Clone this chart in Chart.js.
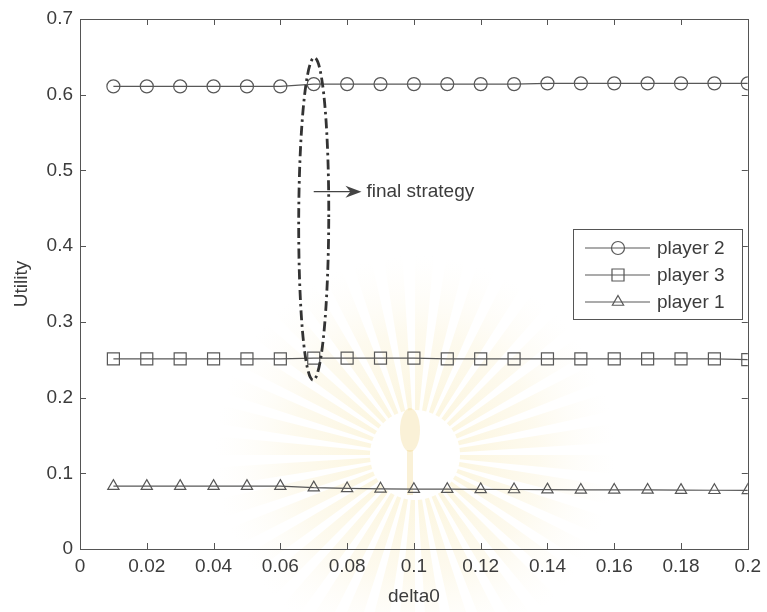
<!DOCTYPE html>
<html>
<head>
<meta charset="utf-8">
<script src="https://cdn.jsdelivr.net/npm/chart.js@4"></script>
<style>
  html, body { margin: 0; padding: 0; background: #fff; }
  #wrap { width: 767px; height: 612px; }
</style>
</head>
<body>
<div id="wrap"><canvas id="chartCanvas" width="767" height="612"></canvas></div>
<script>
// --- data ---
const delta0 = [0.01, 0.02, 0.03, 0.04, 0.05, 0.06, 0.07, 0.08, 0.09, 0.10,
                0.11, 0.12, 0.13, 0.14, 0.15, 0.16, 0.17, 0.18, 0.19, 0.20];
const player2 = [0.611, 0.611, 0.611, 0.611, 0.611, 0.611, 0.614, 0.614, 0.614, 0.614,
                 0.614, 0.614, 0.614, 0.615, 0.615, 0.615, 0.615, 0.615, 0.615, 0.615];
const player3 = [0.251, 0.251, 0.251, 0.251, 0.251, 0.251, 0.252, 0.252, 0.252, 0.252,
                 0.251, 0.251, 0.251, 0.251, 0.251, 0.251, 0.251, 0.251, 0.251, 0.250];
const player1 = [0.083, 0.083, 0.083, 0.083, 0.083, 0.083, 0.081, 0.080, 0.0795, 0.079,
                 0.079, 0.0788, 0.0786, 0.0784, 0.078, 0.078, 0.078, 0.0778, 0.0776, 0.0775];
const seriesNames = ["player 2", "player 3", "player 1"];

// annotation: dash-dot ring around the chosen delta0, plus arrow label
const strategyX = 0.07;
const ringTop = 0.649;
const ringBottom = 0.223;
const ringHalfWidth = 0.0045;
const arrowY = 0.472;
const arrowEndX = 0.0843;
const arrowText = "final strategy";

const ink = "#3c3c3c";
const lineGrey = "#585858";
const font = "'Liberation Sans', Arial, sans-serif";
const textSize = 19;

const canvas = document.getElementById("chartCanvas");

function pts(ys) {
  return delta0.map((x, i) => ({ x, y: ys[i] }));
}

function lineSet(label, ys, style, r) {
  return {
    label,
    data: pts(ys),
    borderColor: lineGrey,
    borderWidth: 1.2,
    pointStyle: style,
    pointRadius: r,
    pointHoverRadius: r,
    pointBorderColor: lineGrey,
    pointBorderWidth: 1.2,
    pointBackgroundColor: "rgba(0,0,0,0)",
    tension: 0
  };
}

// faint sunburst seal behind the axes
const sealPlugin = {
  id: "seal",
  beforeDraw(chart) {
    const ctx = chart.ctx;
    ctx.save();
    ctx.fillStyle = "#fff";
    ctx.fillRect(0, 0, chart.width, chart.height);
    const cx = 415, cy = 455;
    const rays = 40;
    for (let i = 0; i < rays; i++) {
      const a0 = (i / rays) * Math.PI * 2;
      const a1 = a0 + (Math.PI * 2 / rays) * 0.6;
      const g = ctx.createRadialGradient(cx, cy, 30, cx, cy, 200);
      g.addColorStop(0, "rgba(245,225,150,0.32)");
      g.addColorStop(0.55, "rgba(247,232,180,0.22)");
      g.addColorStop(1, "rgba(250,244,224,0)");
      ctx.fillStyle = g;
      ctx.beginPath();
      ctx.moveTo(cx + 45 * Math.cos(a0), cy + 45 * Math.sin(a0));
      ctx.arc(cx, cy, 200, a0, a1);
      ctx.arc(cx, cy, 45, a1, a0, true);
      ctx.closePath();
      ctx.fill();
    }
    // small torch-like stem in the middle of the seal
    ctx.fillStyle = "rgba(240,215,140,0.35)";
    ctx.beginPath();
    ctx.ellipse(cx - 5, cy - 25, 10, 22, 0, 0, Math.PI * 2);
    ctx.fill();
    ctx.fillRect(cx - 8, cy - 5, 6, 45);
    ctx.restore();
  }
};

// box, inward ticks, annotation and legend
const framePlugin = {
  id: "frame",
  afterDraw(chart) {
    const ctx = chart.ctx;
    const a = chart.chartArea;
    const xs = chart.scales.x, ys = chart.scales.y;
    ctx.save();
    ctx.strokeStyle = "#555";
    ctx.lineWidth = 1;
    ctx.strokeRect(Math.round(a.left) + 0.5, Math.round(a.top) + 0.5,
                   Math.round(a.right - a.left), Math.round(a.bottom - a.top));
    ctx.beginPath();
    xs.ticks.forEach(t => {
      const px = Math.round(xs.getPixelForValue(t.value)) + 0.5;
      ctx.moveTo(px, a.bottom); ctx.lineTo(px, a.bottom - 6);
      ctx.moveTo(px, a.top); ctx.lineTo(px, a.top + 6);
    });
    ys.ticks.forEach(t => {
      const py = Math.round(ys.getPixelForValue(t.value)) + 0.5;
      ctx.moveTo(a.left, py); ctx.lineTo(a.left + 6, py);
      ctx.moveTo(a.right, py); ctx.lineTo(a.right - 6, py);
    });
    ctx.stroke();

    // dash-dot ring
    const cx = xs.getPixelForValue(strategyX);
    const top = ys.getPixelForValue(ringTop);
    const bot = ys.getPixelForValue(ringBottom);
    const rx = xs.getPixelForValue(strategyX + ringHalfWidth) - cx;
    ctx.strokeStyle = "#333";
    ctx.lineWidth = 2.8;
    ctx.setLineDash([10, 4, 2.5, 4]);
    ctx.beginPath();
    ctx.ellipse(cx, (top + bot) / 2, rx, (bot - top) / 2, 0.004, 0, Math.PI * 2);
    ctx.stroke();
    ctx.setLineDash([]);

    // arrow
    const ay = ys.getPixelForValue(arrowY);
    const ax1 = xs.getPixelForValue(arrowEndX);
    ctx.strokeStyle = "#444";
    ctx.fillStyle = "#444";
    ctx.lineWidth = 1.2;
    ctx.beginPath();
    ctx.moveTo(cx, ay); ctx.lineTo(ax1 - 6, ay);
    ctx.stroke();
    ctx.beginPath();
    ctx.moveTo(ax1, ay);
    ctx.lineTo(ax1 - 16, ay - 6);
    ctx.lineTo(ax1 - 11, ay);
    ctx.lineTo(ax1 - 16, ay + 6);
    ctx.closePath();
    ctx.fill();
    ctx.fillStyle = ink;
    ctx.font = textSize + "px " + font;
    ctx.textAlign = "left";
    ctx.textBaseline = "middle";
    ctx.fillText(arrowText, ax1 + 5, ay);

    // legend box
    const lx0 = 573, lx1 = 742, ly0 = 229, ly1 = 319;
    ctx.fillStyle = "#fff";
    ctx.fillRect(lx0, ly0, lx1 - lx0, ly1 - ly0);
    ctx.strokeStyle = "#555";
    ctx.lineWidth = 1;
    ctx.strokeRect(lx0 + 0.5, ly0 + 0.5, lx1 - lx0, ly1 - ly0);
    chart.data.datasets.forEach((ds, i) => {
      const ry = 248 + i * 27;
      ctx.strokeStyle = lineGrey;
      ctx.lineWidth = 1.2;
      ctx.beginPath();
      ctx.moveTo(585, ry); ctx.lineTo(650, ry);
      ctx.stroke();
      // hollow marker on top of the sample line
      ctx.fillStyle = "rgba(0,0,0,0)";
      ctx.strokeStyle = lineGrey;
      Chart.helpers.drawPoint(ctx, {
        pointStyle: ds.pointStyle, radius: ds.pointRadius, rotation: 0, borderWidth: 1.2
      }, 618, ry);
      ctx.fillStyle = ink;
      ctx.font = textSize + "px " + font;
      ctx.textAlign = "left";
      ctx.textBaseline = "middle";
      ctx.fillText(ds.label, 657, ry + 1);
    });
    ctx.restore();
  }
};

const fmt = v => String(Number(Number(v).toFixed(2)));

new Chart(canvas, {
  type: "line",
  data: {
    datasets: [
      lineSet(seriesNames[0], player2, "circle", 6.5),
      lineSet(seriesNames[1], player3, "rect", 8.5),
      lineSet(seriesNames[2], player1, "triangle", 6.5)
    ]
  },
  plugins: [sealPlugin, framePlugin],
  options: {
    responsive: false,
    animation: false,
    layout: { padding: { top: 19, right: 17, left: 0, bottom: 0 } },
    plugins: {
      legend: { display: false },
      tooltip: { enabled: false }
    },
    scales: {
      x: {
        type: "linear",
        min: 0,
        max: 0.2,
        grid: { display: false, drawTicks: false },
        border: { display: false },
        ticks: { stepSize: 0.02, padding: 6, color: ink, font: { size: textSize, family: font }, callback: fmt, maxRotation: 0 },
        title: { display: true, text: "delta0", color: ink, font: { size: textSize, family: font }, padding: { top: 0 } },
        afterFit: s => { s.height = 63; }
      },
      y: {
        min: 0,
        max: 0.7,
        grid: { display: false, drawTicks: false },
        border: { display: false },
        ticks: { stepSize: 0.1, padding: 7, color: ink, font: { size: textSize, family: font }, callback: fmt },
        title: { display: true, text: "Utility", color: ink, font: { size: textSize, family: font }, padding: { top: 10, bottom: 4 } },
        afterFit: s => { s.width = 80; }
      }
    }
  }
});
</script>
</body>
</html>
